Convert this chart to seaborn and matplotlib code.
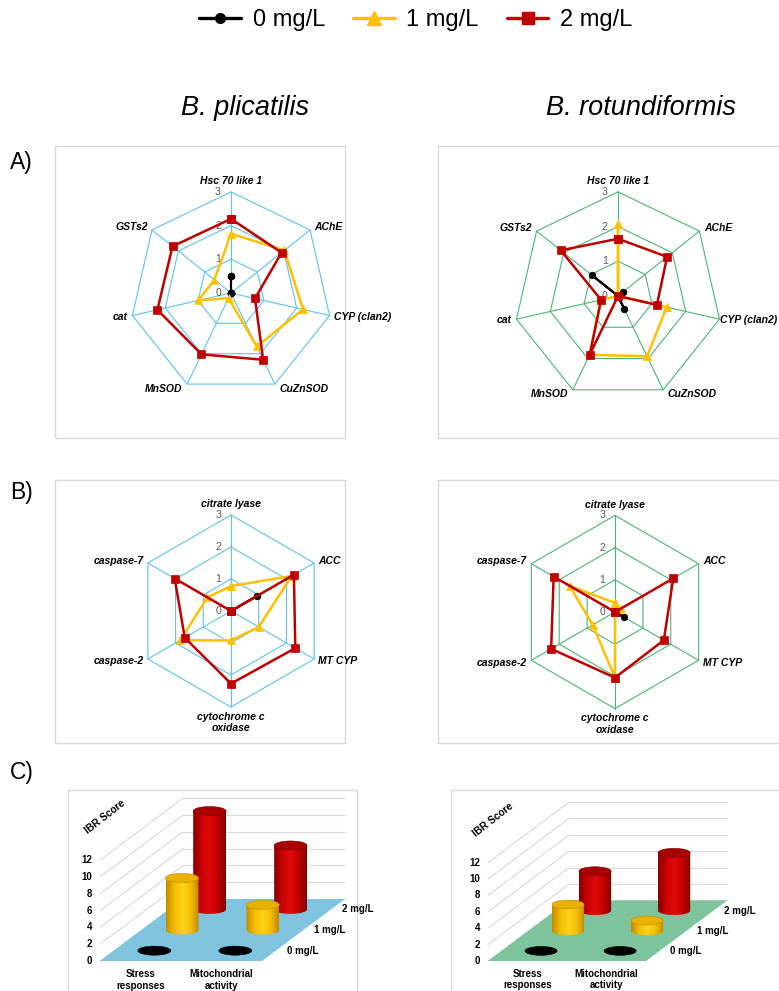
import numpy as np
import matplotlib
matplotlib.use("Agg")
import matplotlib.pyplot as plt
from matplotlib.patches import Rectangle, Ellipse, Polygon
from matplotlib.lines import Line2D
from matplotlib.colors import LinearSegmentedColormap
import seaborn as sns

sns.set_theme(style="white")
plt.rcParams["font.family"] = ["Liberation Sans", "DejaVu Sans"]
plt.rcParams["text.color"] = "black"

# ---------------------------------------------------------------- data
doses = ["0 mg/L", "1 mg/L", "2 mg/L"]
species = ["B. plicatilis", "B. rotundiformis"]

stress_genes = ["Hsc 70 like 1", "AChE", "CYP (clan2)", "CuZnSOD",
                "MnSOD", "cat", "GSTs2"]
mito_genes = ["citrate lyase", "ACC", "MT CYP", "cytochrome c\noxidase",
              "caspase-2", "caspase-7"]
radar_ticks = [0, 1, 2, 3]

# stress-response genes, B. plicatilis
plic_stress_0 = [0.50, 0.00, 0.00, 0.00, 0.00, 0.00, 0.00]
plic_stress_1 = [1.76, 2.03, 2.19, 1.76, 0.17, 1.00, 0.63]
plic_stress_2 = [2.20, 1.92, 0.73, 2.20, 2.02, 2.24, 2.22]
# stress-response genes, B. rotundiformis
rot_stress_0 = [0.00, 0.18, 0.00, 0.40, 0.00, 0.00, 0.97]
rot_stress_1 = [2.07, 0.00, 1.44, 1.93, 1.88, 0.50, 0.00]
rot_stress_2 = [1.65, 1.81, 1.15, 0.00, 1.88, 0.50, 2.11]

# mitochondrial-activity genes, B. plicatilis
plic_mito_0 = [0.00, 0.95, 0.00, 0.00, 0.00, 0.00]
plic_mito_1 = [0.78, 2.19, 1.00, 0.92, 1.83, 0.85]
plic_mito_2 = [0.00, 2.27, 2.32, 2.27, 1.67, 2.03]
# mitochondrial-activity genes, B. rotundiformis
rot_mito_0 = [0.00, 0.00, 0.32, 0.00, 0.00, 0.00]
rot_mito_1 = [0.28, 0.20, 0.00, 2.04, 0.80, 1.63]
rot_mito_2 = [0.00, 2.09, 1.75, 2.04, 2.29, 2.20]

# IBR scores: rows = endpoint group, columns = dose
ibr_groups = ["Stress\nresponses", "Mitochondrial\nactivity"]
ibr_ticks = [0, 2, 4, 6, 8, 10, 12]
plic_ibr_stress = [0.0, 6.2, 11.7]
plic_ibr_mito = [0.0, 3.0, 7.6]
rot_ibr_stress = [0.0, 3.2, 4.8]
rot_ibr_mito = [0.0, 1.25, 7.05]

# ---------------------------------------------------------------- style
dose_colors = ["#000000", "#ffc000", "#c00000"]
dose_markers = ["o", "^", "s"]
dose_msize = [4.8, 6.2, 5.2]
dose_lw = [1.5, 1.8, 1.8]
blue_grid = "#5cc3ec"
green_grid = "#4cb477"
box_color = "#d9d9d9"

W, H = 779, 991
fig = plt.figure(figsize=(W / 100, H / 100), dpi=100)
axis_labels = []


def px_axes(x0, y0, x1, y1):
    ax = fig.add_axes([x0 / W, 1 - y1 / H, (x1 - x0) / W, (y1 - y0) / H])
    ax.set_axis_off()
    return ax


def panel_box(x0, y0, x1, y1):
    fig.add_artist(Rectangle((x0 / W, 1 - y1 / H), (x1 - x0) / W, (y1 - y0) / H,
                             transform=fig.transFigure, fill=False,
                             edgecolor=box_color, lw=1.0, zorder=0))


def radar(box, center, unit, labels, series, grid_color):
    x0, y0, x1, y1 = box
    cx, cy = center
    ax = px_axes(x0, y0, x1, y1)
    n = len(labels)
    ang = 2 * np.pi * np.arange(n) / n
    sx, sy = np.sin(ang), np.cos(ang)
    sxc, syc = np.append(sx, sx[0]), np.append(sy, sy[0])
    rmax = radar_ticks[-1]
    for r in radar_ticks[1:]:
        ax.plot(r * sxc, r * syc, color=grid_color, lw=0.8, zorder=1)
    for k in range(n):
        ax.plot([0, rmax * sx[k]], [0, rmax * sy[k]], color=grid_color,
                lw=0.8, zorder=1)
    for r in radar_ticks:
        ax.text(-0.3, r, str(r), ha="right", va="center", color="#595959",
                fontsize=7.6, zorder=2)
    for k, lab in enumerate(labels):
        vx, vy = rmax * sx[k], rmax * sy[k]
        if abs(sx[k]) < 1e-6:
            if sy[k] > 0:
                t = ax.text(vx, vy + 0.24, lab, ha="center", va="baseline",
                            fontsize=7.5, fontweight="bold", style="italic")
            else:
                t = ax.text(vx, vy - 0.15, lab, ha="center", va="top",
                            fontsize=7.5, fontweight="bold", style="italic",
                            linespacing=1.15)
        else:
            t = ax.text(vx + 0.13 * np.sign(sx[k]), vy + 0.15 * sy[k], lab,
                        ha="left" if sx[k] > 0 else "right", va="center",
                        fontsize=7.5, fontweight="bold", style="italic")
        axis_labels.append((ax, t))
    for i, vals in enumerate(series):
        v = np.append(vals, vals[0])
        sns.lineplot(x=v * sxc, y=v * syc, sort=False, estimator=None, ax=ax,
                     color=dose_colors[i], lw=dose_lw[i],
                     marker=dose_markers[i], markersize=dose_msize[i],
                     markeredgecolor=dose_colors[i], markeredgewidth=0.5,
                     legend=False, zorder=3 + i)
    ax.set_xlim((x0 - cx) / unit, (x1 - cx) / unit)
    ax.set_ylim((cy - y1) / unit, (cy - y0) / unit)
    ax.set_axis_off()
    return ax


# 3-D style column geometry (value units)
CAT_W = 9.64
DEPTH_X, DEPTH_Y = 9.88, 7.38
CYL_R, CYL_E = 1.96, 0.54

body_cmaps = [
    LinearSegmentedColormap.from_list("k", ["#000000", "#000000"]),
    LinearSegmentedColormap.from_list(
        "y", ["#c28c00", "#f2bb00", "#ffd31f", "#f5bd00", "#c08800"]),
    LinearSegmentedColormap.from_list(
        "r", ["#870000", "#c80000", "#e20b0b", "#c20000", "#820000"]),
]
top_colors = ["#000000", "#eab000", "#a80000"]
top_edges = ["#000000", "#c08a00", "#7a0000"]


def cylinder(ax, cx, base, h, i, z):
    if h > 0:
        t = np.linspace(np.pi, 2 * np.pi, 50)
        bottom = np.column_stack([cx + CYL_R * np.cos(t), base + CYL_E * np.sin(t)])
        outline = np.vstack([bottom, [[cx + CYL_R, base + h], [cx - CYL_R, base + h]]])
        poly = Polygon(outline, closed=True, facecolor="none", edgecolor="none",
                       zorder=z)
        ax.add_patch(poly)
        grad = np.linspace(0, 1, 128).reshape(1, -1)
        im = ax.imshow(grad, cmap=body_cmaps[i], aspect="auto", origin="lower",
                       extent=[cx - CYL_R, cx + CYL_R, base - CYL_E, base + h],
                       zorder=z, interpolation="bilinear")
        im.set_clip_path(poly)
    ax.add_patch(Ellipse((cx, base + h), 2 * CYL_R, 2 * CYL_E,
                         facecolor=top_colors[i], edgecolor=top_edges[i],
                         lw=0.4, zorder=z + 0.5))


def ibr_chart(region, origin, unit, scores, floor_color):
    x0, y0, x1, y1 = region
    ox, oy = origin
    ax = px_axes(x0, y0, x1, y1)
    ax.set_autoscale_on(False)
    front_w = CAT_W * len(ibr_groups)
    for v in ibr_ticks:
        ax.plot([0, DEPTH_X], [v, v + DEPTH_Y], color="#d9d9d9", lw=0.8, zorder=0)
        ax.plot([DEPTH_X, front_w + DEPTH_X], [v + DEPTH_Y, v + DEPTH_Y],
                color="#d9d9d9", lw=0.8, zorder=0)
        ax.text(-0.95, v, str(v), ha="right", va="center", fontsize=7,
                fontweight="bold")
    ax.add_patch(Polygon([(0, 0), (front_w, 0), (front_w + DEPTH_X, DEPTH_Y),
                          (DEPTH_X, DEPTH_Y)], closed=True,
                         facecolor=floor_color, edgecolor="none", zorder=1))
    z = 2
    for j in reversed(range(len(doses))):
        for i in range(len(ibr_groups)):
            cx = (i + 0.5) * CAT_W + (j + 0.5) * DEPTH_X / len(doses)
            base = (j + 0.5) * DEPTH_Y / len(doses)
            cylinder(ax, cx, base, scores[i][j], j, z)
            z += 1
        ax.text(front_w + (j + 0.5) * DEPTH_X / len(doses) + 1.3,
                (j + 0.5) * DEPTH_Y / len(doses), doses[j], ha="left",
                va="center", fontsize=7, fontweight="bold")
    for i, g in enumerate(ibr_groups):
        ax.text((i + 0.5) * CAT_W, -1.0, g, ha="center", va="top", fontsize=7,
                fontweight="bold", linespacing=1.15)
    ax.text(0.6, 17.2, "IBR Score", rotation=38, ha="center", va="center",
            fontsize=7.3, fontweight="bold")
    ax.set_xlim((x0 - ox) / unit, (x1 - ox) / unit)
    ax.set_ylim((oy - y1) / unit, (oy - y0) / unit)
    return ax


# ---------------------------------------------------------------- layout
panel_box(55, 146, 345, 438)
panel_box(438, 146, 800, 438)
panel_box(55, 480, 345, 743)
panel_box(438, 480, 800, 743)
panel_box(68, 790, 357, 1000)
panel_box(451, 790, 800, 1000)

radar((55, 146, 345, 438), (231, 293), 33.7, stress_genes,
      [plic_stress_0, plic_stress_1, plic_stress_2], blue_grid)
radar((438, 146, 779, 438), (618, 296), 34.7, stress_genes,
      [rot_stress_0, rot_stress_1, rot_stress_2], green_grid)
radar((55, 480, 345, 743), (231, 611), 32.0, mito_genes,
      [plic_mito_0, plic_mito_1, plic_mito_2], blue_grid)
radar((438, 480, 779, 743), (615, 612), 32.2, mito_genes,
      [rot_mito_0, rot_mito_1, rot_mito_2], green_grid)

ibr_chart((60, 780, 365, 991), (100, 961), 8.4,
          [plic_ibr_stress, plic_ibr_mito], "#7fc3de")
ibr_chart((445, 780, 779, 991), (488, 961), 8.2,
          [rot_ibr_stress, rot_ibr_mito], "#7dc49d")

# species titles and panel letters
fig.text(245 / W, 1 - 108 / H, species[0], ha="center", va="center",
         style="italic", fontsize=19.5)
fig.text(641 / W, 1 - 108 / H, species[1], ha="center", va="center",
         style="italic", fontsize=19.5)
for letter, y in [("A)", 163), ("B)", 492), ("C)", 772)]:
    fig.text(10 / W, 1 - y / H, letter, ha="left", va="center", fontsize=16.5)

# shared legend
handles = [Line2D([0], [0], color=dose_colors[i], marker=dose_markers[i],
                  lw=2.4, markersize=[7, 10, 8][i],
                  markeredgecolor=dose_colors[i]) for i in range(3)]
fig.legend(handles, doses, loc="center", bbox_to_anchor=(416 / W, 1 - 20 / H),
           ncol=3, frameon=False, fontsize=17, handlelength=1.75,
           handletextpad=0.5, columnspacing=1.2)

# keep axis labels inside the figure's right edge
fig.canvas.draw()
renderer = fig.canvas.get_renderer()
for ax, t in axis_labels:
    bb = t.get_window_extent(renderer)
    overflow = bb.x1 - (fig.bbox.width - 2)
    if overflow > 0:
        x, y = t.get_position()
        dx_disp = ax.transData.transform((x, y))
        new = ax.transData.inverted().transform((dx_disp[0] - overflow, dx_disp[1]))
        t.set_position((new[0], y))

fig.savefig("out.png", dpi=100, facecolor="white")
